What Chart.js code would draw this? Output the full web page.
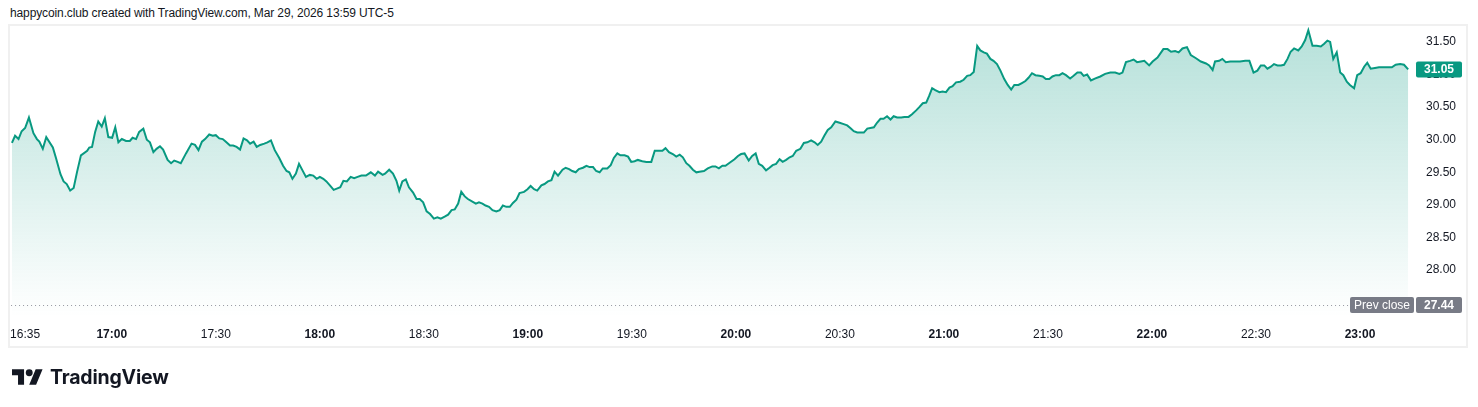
<!DOCTYPE html>
<html>
<head>
<meta charset="utf-8">
<script src="https://cdn.jsdelivr.net/npm/chart.js@4.4.1/dist/chart.umd.min.js"></script>
<style>
html,body{margin:0;padding:0;background:#fff;}
body{width:1478px;height:407px;position:relative;overflow:hidden;font-family:"Liberation Sans",Arial,sans-serif;}
#hdr{position:absolute;left:10px;top:5px;font-size:12px;line-height:16px;color:#131722;white-space:nowrap;letter-spacing:-0.12px;}
#frame{position:absolute;left:8px;top:24px;width:1456px;height:320px;border:2px solid #f0f0f0;}
#wrap{position:absolute;left:0;top:0;width:1478px;height:407px;}
#logo{position:absolute;left:12px;top:365px;height:24px;display:flex;align-items:center;}
#logo svg{display:block;}
#logo span{margin-left:7px;font-family:Inter,"Liberation Sans",sans-serif;font-weight:700;font-size:19.5px;color:#131722;letter-spacing:-0.2px;}
</style>
</head>
<body>
<div id="hdr">happycoin.club created with TradingView.com, Mar 29, 2026 13:59 UTC-5</div>
<div id="frame"></div>
<div id="wrap"><canvas id="c" width="1478" height="407"></canvas></div>
<div id="logo">
  <svg width="31" height="16" viewBox="0 4 36 18"><path fill="#131722" d="M14 22H7V11H0V4h14v18zM28 22h-8l7.5-18h8L28 22z"/><circle fill="#131722" cx="20" cy="8" r="4"/></svg>
  <span>TradingView</span>
</div>
<script>
// minutes after 16:00
const minutes = [
31.2,32.1,33.1,34.0,35.0,36.1,37.4,38.4,39.1,40.1,
41.1,43.0,43.9,45.2,46.1,47.0,48.0,49.0,50.0,51.1,
52.9,53.5,54.3,55.2,56.1,57.1,58.0,59.0,60.1,61.0,
61.9,62.9,64.1,65.2,66.0,67.0,67.9,69.1,70.1,71.0,
72.0,72.9,73.9,74.8,76.1,77.1,78.0,79.0,79.9,81.4,
83.0,84.0,85.0,86.0,86.9,88.1,89.1,90.0,91.0,92.0,
92.9,94.1,95.0,96.0,97.0,98.0,99.0,99.9,100.9,101.8,
102.8,104.0,104.9,105.9,107.0,108.3,109.4,110.4,111.2,112.1,
113.1,114.0,115.0,116.0,117.1,118.1,119.1,120.0,121.0,121.9,
122.9,124.0,124.9,125.9,126.8,127.8,128.9,129.9,130.9,132.0,
133.3,134.7,135.9,136.8,138.1,138.8,140.0,141.1,142.1,142.9,
143.8,144.8,145.7,146.9,147.9,148.8,149.8,150.8,151.8,152.9,
153.9,154.9,156.0,157.0,158.0,158.9,159.9,160.8,161.8,162.7,
164.0,165.0,165.9,166.9,167.8,168.8,169.8,170.9,171.9,172.8,
173.8,174.8,175.7,176.7,177.6,178.9,179.9,180.8,181.8,182.7,
183.9,184.8,185.8,186.8,187.7,188.7,190.0,190.9,191.9,192.8,
193.8,194.7,195.9,196.9,197.8,198.8,199.7,200.7,201.6,202.9,
203.9,204.8,205.8,206.7,207.9,208.9,209.8,210.8,211.7,213.0,
214.2,215.6,216.6,217.8,218.8,219.7,220.7,221.8,222.8,223.8,
224.7,225.7,226.6,227.6,228.6,229.5,230.8,231.9,233.2,234.1,
235.1,236.1,237.0,238.3,239.6,240.6,241.5,242.5,243.7,244.7,
245.7,246.6,247.6,248.7,249.7,250.6,251.6,252.6,253.5,254.5,
255.5,256.4,257.4,258.6,259.6,260.6,261.7,262.7,263.6,264.6,
265.5,266.5,267.5,268.7,269.9,271.1,272.1,273.0,274.0,275.0,
275.9,276.9,277.9,278.8,279.8,280.7,281.7,282.6,283.6,284.6,
285.5,286.5,287.7,288.6,289.8,290.8,292.0,292.9,293.9,294.9,
295.8,296.6,297.5,298.7,299.6,300.6,301.6,302.5,303.5,304.7,
305.7,306.7,307.6,308.6,309.6,310.5,311.5,312.4,313.4,314.3,
315.3,316.3,317.4,318.4,319.4,320.3,321.5,322.5,323.5,324.4,
325.4,326.4,327.5,328.5,329.4,330.4,331.3,332.3,333.3,334.2,
335.2,336.4,337.4,338.5,339.5,340.3,341.3,342.4,343.7,345.1,
346.5,348.0,349.4,350.6,351.5,352.5,353.7,354.7,355.7,356.8,
357.8,359.2,360.2,361.6,363.3,364.5,365.5,366.7,367.7,368.8,
370.1,371.2,372.7,374.1,375.6,376.5,377.5,378.2,379.4,380.3,
381.3,382.6,384.0,385.4,386.9,388.1,389.3,390.4,391.4,392.4,
393.3,394.3,395.2,396.2,397.2,398.1,399.1,400.0,401.0,402.2,
403.2,404.2,405.1,406.3,407.5,408.7,409.6,410.6,411.4,412.3,
413.3,414.3,415.2,416.2,417.1,418.3,419.2,420.2,421.2,422.1,
423.1,424.3,425.5,426.7,427.9,429.2,430.3,431.6,432.7,433.9
];
const prices = [
29.92,30.03,29.98,30.10,30.15,30.31,30.07,29.98,29.94,29.83,
30.01,29.85,29.69,29.44,29.33,29.29,29.19,29.23,29.48,29.73,
29.80,29.85,29.86,30.09,30.25,30.17,30.30,30.01,30.00,30.16,
29.93,29.98,29.95,29.95,30.00,29.98,30.09,30.14,29.97,29.93,
29.78,29.83,29.87,29.82,29.66,29.61,29.65,29.63,29.61,29.76,
29.91,29.89,29.81,29.94,29.98,30.05,30.03,30.04,29.99,29.98,
29.94,29.88,29.88,29.86,29.82,29.99,29.96,29.91,29.94,29.86,
29.89,29.91,29.93,29.96,29.81,29.69,29.57,29.49,29.47,29.37,
29.45,29.60,29.50,29.40,29.43,29.42,29.37,29.40,29.37,29.33,
29.27,29.20,29.22,29.24,29.34,29.33,29.40,29.38,29.40,29.42,
29.42,29.47,29.42,29.48,29.43,29.45,29.51,29.45,29.34,29.19,
29.33,29.36,29.24,29.16,29.06,29.06,29.01,28.87,28.83,28.76,
28.78,28.76,28.79,28.82,28.89,28.90,28.99,29.17,29.10,29.06,
29.02,28.99,29.01,28.99,28.96,28.94,28.89,28.87,28.89,28.96,
28.94,28.94,29.00,29.05,29.15,29.17,29.21,29.26,29.21,29.19,
29.27,29.29,29.33,29.35,29.48,29.42,29.51,29.54,29.52,29.49,
29.47,29.52,29.54,29.57,29.55,29.55,29.49,29.47,29.53,29.53,
29.58,29.69,29.76,29.73,29.73,29.71,29.63,29.64,29.66,29.64,
29.63,29.63,29.80,29.80,29.80,29.84,29.78,29.75,29.71,29.74,
29.70,29.61,29.57,29.51,29.47,29.48,29.49,29.53,29.56,29.56,
29.53,29.57,29.57,29.62,29.67,29.72,29.75,29.76,29.65,29.72,
29.76,29.60,29.57,29.50,29.54,29.58,29.60,29.67,29.63,29.66,
29.70,29.72,29.80,29.83,29.92,29.93,29.96,29.93,29.89,29.94,
30.03,30.12,30.16,30.25,30.23,30.21,30.19,30.15,30.10,30.08,
30.08,30.08,30.14,30.15,30.16,30.23,30.29,30.29,30.33,30.28,
30.33,30.31,30.31,30.32,30.32,30.36,30.42,30.47,30.53,30.54,
30.65,30.76,30.73,30.70,30.71,30.70,30.77,30.79,30.85,30.86,
30.89,30.95,30.96,31.01,31.41,31.34,31.31,31.29,31.21,31.18,
31.13,31.03,30.90,30.81,30.74,30.81,30.81,30.84,30.87,30.92,
30.99,30.96,30.95,30.94,30.90,30.90,30.94,30.96,30.96,30.99,
30.96,30.91,30.95,31.00,31.00,30.95,30.97,30.88,30.91,30.94,
30.98,31.00,31.00,30.98,31.00,31.16,31.18,31.20,31.16,31.17,
31.18,31.11,31.17,31.23,31.36,31.36,31.32,31.33,31.31,31.37,
31.39,31.27,31.22,31.17,31.14,31.11,31.04,31.17,31.18,31.21,
31.16,31.17,31.17,31.17,31.18,31.18,31.00,31.03,31.11,31.11,
31.06,31.09,31.13,31.11,31.11,31.12,31.21,31.32,31.37,31.34,
31.40,31.50,31.65,31.41,31.41,31.40,31.44,31.49,31.47,31.21,
31.31,31.00,30.96,30.86,30.81,30.76,30.96,30.99,31.09,31.15,
31.06,31.07,31.08,31.08,31.08,31.08,31.12,31.13,31.12,31.05
];
const timeTicks = [35, 60, 90, 120, 150, 180, 210, 240, 270, 300, 330, 360, 390, 420];
const priceTicks = [28.00, 28.50, 29.00, 29.50, 30.00, 30.50, 31.00, 31.50];
const prevClose = 27.44;
const prevCloseLabel = "Prev close";

const FONT = '"Liberation Sans", Arial, sans-serif';
const GREEN = '#089981';
const GRAY = '#787b86';

function fmtTime(m) {
  const h = 16 + Math.floor(m / 60);
  const mm = Math.round(m % 60);
  return h + ':' + String(mm).padStart(2, '0');
}

const points = minutes.map((m, i) => ({ x: m, y: prices[i] }));

function roundRect(ctx, x, y, w, h, r) {
  ctx.beginPath();
  ctx.moveTo(x + r, y);
  ctx.lineTo(x + w - r, y);
  ctx.quadraticCurveTo(x + w, y, x + w, y + r);
  ctx.lineTo(x + w, y + h - r);
  ctx.quadraticCurveTo(x + w, y + h, x + w - r, y + h);
  ctx.lineTo(x + r, y + h);
  ctx.quadraticCurveTo(x, y + h, x, y + h - r);
  ctx.lineTo(x, y + r);
  ctx.quadraticCurveTo(x, y, x + r, y);
  ctx.closePath();
}

const overlay = {
  id: 'overlay',
  afterDatasetsDraw(chart) {
    const { ctx, chartArea: a, scales: { y } } = chart;
    ctx.save();
    // prev close dotted line
    const py = Math.round(y.getPixelForValue(prevClose)) + 0.5;
    ctx.strokeStyle = '#9598a1';
    ctx.lineWidth = 1;
    ctx.setLineDash([1, 3]);
    ctx.beginPath();
    ctx.moveTo(a.left, py);
    ctx.lineTo(a.right - 66, py);
    ctx.stroke();
    ctx.setLineDash([]);

    ctx.font = '12px ' + FONT;
    ctx.textBaseline = 'middle';
    ctx.textAlign = 'center';
    // Prev close label
    ctx.fillStyle = GRAY;
    roundRect(ctx, a.right - 65, py - 8.5, 64, 16, 2);
    ctx.fill();
    ctx.fillStyle = '#ffffff';
    ctx.fillText(prevCloseLabel, a.right - 33, py + 0.5);
    // prev close value box
    ctx.fillStyle = GRAY;
    roundRect(ctx, a.right + 1, py - 8.5, 46, 16, 2);
    ctx.fill();
    ctx.fillStyle = '#ffffff';
    ctx.font = 'bold 12px ' + FONT;
    ctx.fillText(prevClose.toFixed(2), a.right + 24, py + 0.5);

    // last price box
    const last = prices[prices.length - 1];
    const ly = Math.round(y.getPixelForValue(last)) + 0.5;
    ctx.fillStyle = GREEN;
    roundRect(ctx, a.right + 1, ly - 8, 46, 16, 2);
    ctx.fill();
    ctx.fillStyle = '#ffffff';
    ctx.fillText(last.toFixed(2), a.right + 24, ly + 0.5);
    ctx.restore();
  }
};

new Chart(document.getElementById('c'), {
  type: 'line',
  data: {
    datasets: [{
      data: points,
      borderColor: GREEN,
      borderWidth: 2,
      pointRadius: 0,
      tension: 0,
      fill: 'start',
      backgroundColor: (context) => {
        const chart = context.chart;
        const a = chart.chartArea;
        if (!a) return 'rgba(8,153,129,0.15)';
        const g = chart.ctx.createLinearGradient(0, a.top, 0, a.bottom);
        g.addColorStop(0, 'rgba(8,153,129,0.30)');
        g.addColorStop(1, 'rgba(8,153,129,0.0)');
        return g;
      }
    }]
  },
  options: {
    responsive: false,
    animation: false,
    devicePixelRatio: 1,
    layout: { padding: { left: 10, top: 25, right: 12, bottom: 61 } },
    plugins: { legend: { display: false }, tooltip: { enabled: false } },
    scales: {
      x: {
        type: 'linear',
        min: 30.95,
        max: 435.87,
        grid: { display: false, drawTicks: false },
        border: { display: false },
        afterBuildTicks: (s) => { s.ticks = timeTicks.map(v => ({ value: v })); },
        afterFit: (s) => { s.height = 29; },
        ticks: {
          autoSkip: false,
          maxRotation: 0,
          padding: 10,
          color: '#131722',
          font: (c) => ({ family: FONT, size: 12, weight: (c.tick && c.tick.value % 60 === 0) ? 'bold' : 'normal' }),
          callback: (v) => fmtTime(v)
        }
      },
      y: {
        type: 'linear',
        position: 'right',
        min: 27.25,
        max: 31.73,
        grid: { display: false, drawTicks: false },
        border: { display: false },
        afterBuildTicks: (s) => { s.ticks = priceTicks.map(v => ({ value: v })); },
        afterFit: (s) => { s.width = 51; },
        ticks: {
          padding: 11,
          labelOffset: 2,
          color: '#131722',
          font: { family: FONT, size: 12 },
          callback: (v) => Number(v).toFixed(2)
        }
      }
    }
  },
  plugins: [overlay]
});
</script>
</body>
</html>
